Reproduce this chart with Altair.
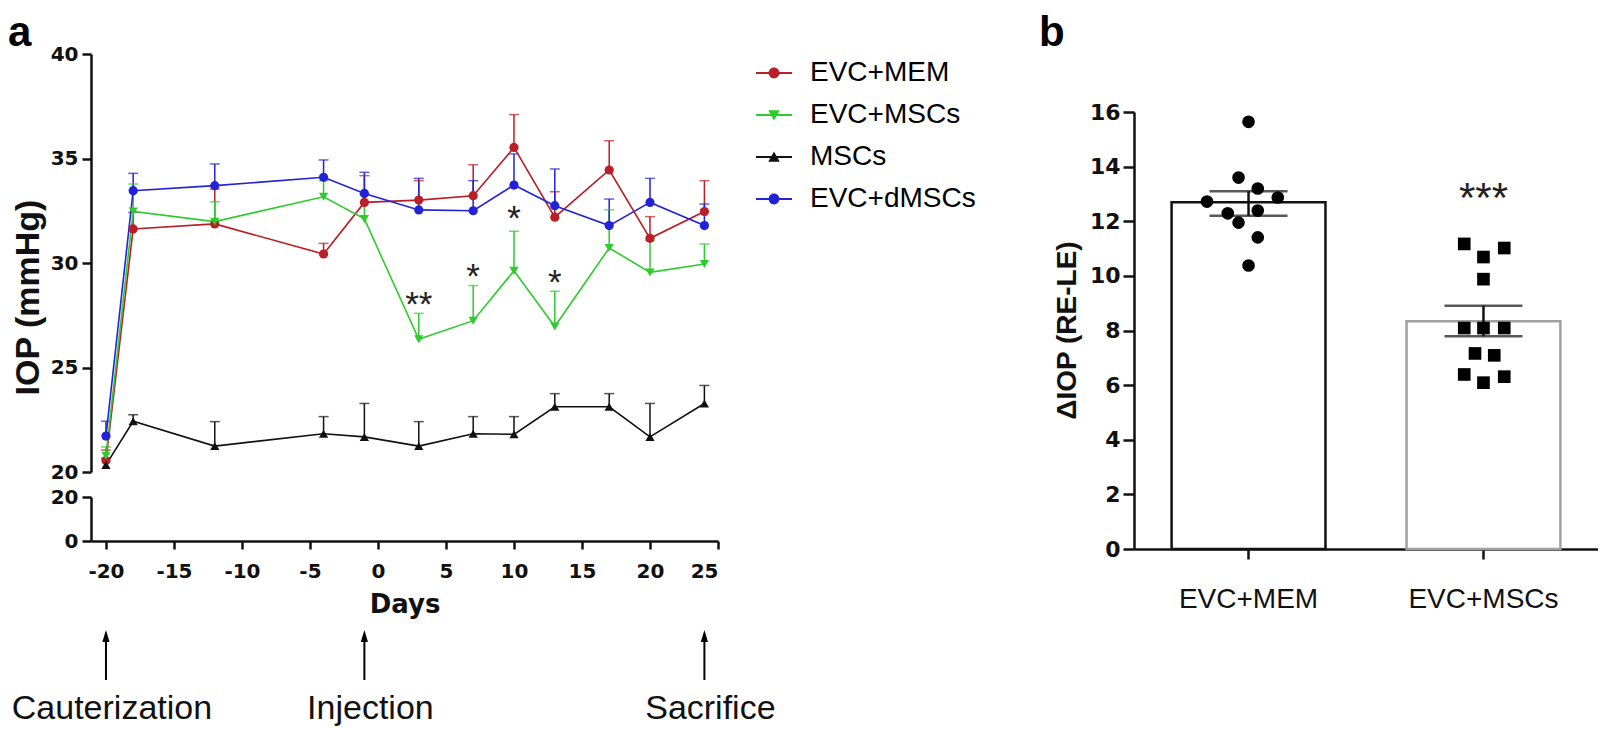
import altair as alt
import pandas as pd

# ---------------- panel a data ----------------
days = [-20, -18, -12, -4, -1, 3, 7, 10, 13, 17, 20, 24]
groups = ["EVC+MEM", "EVC+MSCs", "MSCs", "EVC+dMSCs"]

mem_mean = [20.55, 31.63, 31.87, 30.43, 32.90, 33.01, 33.22, 35.53, 32.19, 34.45, 31.18, 32.46]
mem_upper = [21.05, 32.42, 33.54, 30.94, 34.18, 33.94, 34.70, 37.10, 33.41, 35.85, 32.22, 33.94]
evcmsc_mean = [20.78, 32.47, 31.98, 33.17, 32.11, 26.35, 27.24, 29.63, 26.96, 30.72, 29.55, 29.95]
evcmsc_upper = [21.20, 33.78, 32.93, 33.94, 33.30, 27.59, 28.92, 31.52, 28.65, 32.55, 31.07, 30.91]
msc_mean = [20.34, 22.43, 21.24, 21.83, 21.68, 21.24, 21.83, 21.80, 23.12, 23.12, 21.68, 23.28]
msc_upper = [20.65, 22.74, 22.41, 22.65, 23.28, 22.41, 22.65, 22.65, 23.75, 23.75, 23.28, 24.14]
dmsc_mean = [21.72, 33.46, 33.70, 34.10, 33.33, 32.54, 32.50, 33.73, 32.74, 31.79, 32.90, 31.79]
dmsc_upper = [22.43, 34.29, 34.74, 34.93, 34.34, 34.05, 33.94, 35.22, 34.50, 33.06, 34.05, 32.82]

sig_days = [3, 7, 10, 13]
sig_labels = ["**", "*", "*", "*"]
sig_y = [28.45, 29.79, 32.58, 29.51]

event_days = [-20, -1, 24]
event_labels = ["Cauterization", "Injection", "Sacrifice"]

# ---------------- panel b data ----------------
bar_groups = ["EVC+MEM", "EVC+MSCs"]
bar_means = [12.70, 8.34]
bar_lo = [12.20, 7.79]
bar_hi = [13.10, 8.91]
mem_points = [15.64, 13.60, 13.20, 12.87, 12.72, 12.29, 12.39, 11.95, 11.41, 10.38]
mem_jitter = [0.0, -0.13, 0.12, 0.38, -0.54, -0.27, 0.12, -0.13, 0.12, 0.0]
msc_points = [11.17, 11.02, 10.69, 9.88, 8.09, 8.09, 8.09, 7.16, 7.09, 6.39, 6.31, 6.09]
msc_jitter = [-0.25, 0.27, 0.0, 0.0, -0.25, 0.0, 0.27, -0.11, 0.14, -0.25, 0.27, 0.0]
b_sig_label = ["***"]
b_sig_y = [13.26]

# ---------------- styles ----------------
RED, GREEN, BLACK, BLUE = "#B81F27", "#2DCB2D", "#111111", "#2222D8"
colors = [RED, GREEN, BLACK, BLUE]
point_shapes = ["circle", "triangle-down", "triangle-up", "circle"]
LINE = "M-1,-0.055H1V0.055H-1Z "
legend_shapes = [
    LINE + "M-0.3,0A0.3,0.3 0 1,1 0.3,0A0.3,0.3 0 1,1 -0.3,0Z",
    LINE + "M-0.32,-0.26H0.32L0,0.3Z",
    LINE + "M0,-0.3L0.32,0.26H-0.32Z",
    LINE + "M-0.3,0A0.3,0.3 0 1,1 0.3,0A0.3,0.3 0 1,1 -0.3,0Z",
]
ARROW = "M0,-1L0.6,1L-0.6,1Z"
TICKF = "DejaVu Sans"
TXTF = "Liberation Sans"

rows = []
for g, m, u in zip(groups, [mem_mean, evcmsc_mean, msc_mean, dmsc_mean],
                   [mem_upper, evcmsc_upper, msc_upper, dmsc_upper]):
    for d, mv, uv in zip(days, m, u):
        rows.append({"day": d, "group": g, "mean": mv, "upper": uv})
series = pd.DataFrame(rows)
sig_df = pd.DataFrame({"day": sig_days, "label": sig_labels, "y": sig_y})
events = pd.DataFrame({"day": event_days, "label": event_labels})

# ---------------- panel a (broken y axis in one view) ----------------
A_W, A_H = 627, 487
xs = alt.Scale(domain=[-21.1, 25], nice=False, zero=False)
axis_x = alt.Axis(values=list(range(-20, 26, 5)), labelExpr="datum.value + ''",
                  labelFont=TICKF, labelFontSize=20, labelFontWeight="bold",
                  labelPadding=12, tickSize=8, tickWidth=2.5, domainWidth=2.5,
                  titleFont=TICKF, titleFontSize=26, titleFontWeight="bold", titlePadding=10)
X_A = alt.X("day:Q", scale=xs, axis=axis_x, title="Days")

ys_top = alt.Scale(domain=[20, 40], range=[418, 0], nice=False, zero=False)
axis_a_y = alt.Axis(values=[20, 25, 30, 35, 40], orient="left", labelFont=TICKF,
                    labelFontSize=20, labelFontWeight="bold", labelPadding=4, tickSize=9,
                    tickWidth=2.5, domainWidth=2.5, titleFont=TXTF, titleFontSize=34,
                    titleFontWeight="bold", titleX=-63, titleY=243, titleAngle=270,
                    titleAlign="center", titleBaseline="middle")
cscale = alt.Scale(domain=groups, range=colors)


def y_top(field):
    return alt.Y(field, type="quantitative", scale=ys_top, axis=axis_a_y, title="IOP (mmHg)")


def col(legend=None):
    return alt.Color("group:N", scale=cscale, legend=legend)


base = alt.Chart(series).encode(x=X_A)
err = base.mark_rule(strokeWidth=1.5).encode(y=y_top("mean"), y2="upper:Q", color=col())
cap = base.mark_tick(orient="horizontal", size=10, thickness=1.5).encode(
    y=y_top("upper"), color=col())
line = base.mark_line(strokeWidth=1.6).encode(y=y_top("mean"), color=col())
pts = base.mark_point(filled=True, size=85, opacity=1).encode(
    y=y_top("mean"), color=col(),
    shape=alt.Shape("group:N", scale=alt.Scale(domain=groups, range=point_shapes), legend=None))

leg_def = alt.Legend(title=None, orient="none", legendX=665, legendY=1, padding=0,
                     symbolSize=1296, symbolStrokeWidth=0, labelFont=TXTF, labelFontSize=28,
                     labelColor="black", labelOffset=18, rowPadding=10, labelLimit=400)
leg = base.mark_point(filled=True, opacity=1).encode(
    y=y_top("mean"), color=col(leg_def),
    shape=alt.Shape("group:N", scale=alt.Scale(domain=groups, range=legend_shapes),
                    legend=leg_def),
).transform_filter("false")

sig = alt.Chart(sig_df).mark_text(font=TXTF, fontSize=35, baseline="alphabetic", dy=21,
                                   color="#222222").encode(x=X_A, y=y_top("y"), text="label:N")

a_lab = alt.Chart(pd.DataFrame({"t": ["a"]})).mark_text(
    font=TXTF, fontSize=42, fontWeight="bold", align="left", baseline="alphabetic",
    color="black").encode(text="t:N", x=alt.value(-83), y=alt.value(-8))

upper_part = alt.layer(err, cap, line, pts, sig, a_lab, leg).resolve_scale(
    color="independent", shape="independent")

# lower segment of the broken axis, events below the x axis
ys_low = alt.Scale(domain=[0, 20], range=[487, 443], nice=False, zero=False)
y_low = alt.YDatum(0, type="quantitative", scale=ys_low,
                   axis=alt.Axis(values=[0, 20], orient="left", labelFont=TICKF,
                                 labelFontSize=20, labelFontWeight="bold", labelPadding=4,
                                 tickSize=9, tickWidth=2.5, domainWidth=2.5),
                   title=None)
ev_base = alt.Chart(events).encode(x=X_A)
ev_text = ev_base.mark_text(font=TXTF, fontSize=34, baseline="alphabetic", dy=178, dx=6,
                            color="#111111").encode(y=y_low, text="label:N")
ev_rule = ev_base.mark_rule(strokeWidth=2, color="black").encode(
    y=alt.value(582), y2=alt.value(626))
ev_head = ev_base.mark_point(shape=ARROW, filled=True, size=144, color="black",
                             opacity=1).encode(y=alt.value(582))
lower_part = alt.layer(ev_text, ev_rule, ev_head)

panel_a = alt.layer(upper_part, lower_part).resolve_scale(y="independent").properties(
    width=A_W, height=A_H)

# ---------------- panel b ----------------
bars_df = pd.DataFrame({"group": bar_groups, "mean": bar_means, "lo": bar_lo, "hi": bar_hi,
                        "outline": ["#111111", "#A0A0A0"]})
pts_b = pd.DataFrame({
    "group": [bar_groups[0]] * len(mem_points) + [bar_groups[1]] * len(msc_points),
    "val": mem_points + msc_points,
    "jit": mem_jitter + msc_jitter,
})
sigb_df = pd.DataFrame({"group": [bar_groups[1]], "label": b_sig_label, "y": b_sig_y})

xb = alt.X("group:N", sort=bar_groups,
           scale=alt.Scale(domain=bar_groups, paddingInner=0.345, paddingOuter=0.16),
           axis=alt.Axis(labelAngle=0, labelFont=TXTF, labelFontSize=28, labelPadding=26,
                         tickSize=10, tickWidth=2.5, domainWidth=2.5),
           title=None)
axis_b_y = alt.Axis(values=list(range(0, 17, 2)), labelFont=TICKF, labelFontSize=22,
                    labelFontWeight="bold", labelPadding=3, tickSize=11, tickWidth=2.5,
                    domainWidth=2.5, titleFont=TXTF, titleFontSize=28, titleFontWeight="bold",
                    titleX=-67, titleY=276, titleAngle=270, titleAlign="center",
                    titleBaseline="middle")
ysb = alt.Scale(domain=[0, 16], range=[495, 58], nice=False, zero=False)


def yb(field):
    return alt.Y(field, type="quantitative", scale=ysb, axis=axis_b_y, title="ΔIOP (RE-LE)")


bars = alt.Chart(bars_df).mark_bar(fill="white", strokeWidth=2.5).encode(
    x=xb, y=yb("mean"), y2=alt.Y2Datum(0), stroke=alt.Stroke("outline:N", scale=None))
errb = alt.Chart(bars_df).mark_rule(strokeWidth=2.5, color="#111111").encode(
    x=xb, y=yb("lo"), y2="hi:Q")
capb = alt.Chart(bars_df).transform_fold(["lo", "hi"], as_=["end", "v"]).mark_tick(
    orient="horizontal", size=78, thickness=2.5, color="#111111").encode(x=xb, y=yb("v"))
ptsb = alt.Chart(pts_b).mark_point(filled=True, opacity=1, color="black").encode(
    x=xb, xOffset=alt.XOffset("jit:Q", scale=alt.Scale(domain=[-1, 1])), y=yb("val"),
    shape=alt.Shape("group:N", scale=alt.Scale(domain=bar_groups, range=["circle", "square"]),
                    legend=None),
    size=alt.Size("group:N", scale=alt.Scale(domain=bar_groups, range=[160, 160]), legend=None))
sigb = alt.Chart(sigb_df).mark_text(font=TXTF, fontSize=42, baseline="alphabetic", dy=25,
                                     color="#222222").encode(x=xb, y=yb("y"), text="label:N")
b_lab = alt.Chart(pd.DataFrame({"t": ["b"]})).mark_text(
    font=TXTF, fontSize=42, fontWeight="bold", align="left", baseline="alphabetic",
    color="black").encode(text="t:N", x=alt.value(-95), y=alt.value(-8))

panel_b = alt.layer(bars, errb, capb, ptsb, sigb, b_lab).resolve_scale(
    xOffset="independent").properties(width=464, height=495)

chart = alt.hconcat(panel_a, panel_b, spacing=416, bounds="flush").resolve_scale(
    color="independent", shape="independent", size="independent"
).properties(padding={"top": 4, "left": 0, "right": 0, "bottom": 0}).configure_view(
    stroke=None).configure_axis(
    grid=False, domainColor="#111111", tickColor="#111111", labelColor="#111111",
    titleColor="#111111")

chart.save("out.html", embed_options={"renderer": "svg", "actions": False})
